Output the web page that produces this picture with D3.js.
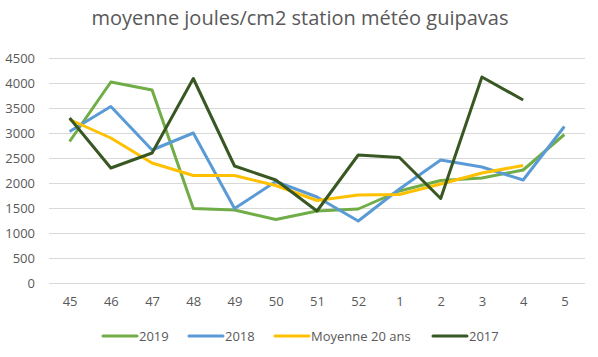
<!DOCTYPE html>
<html><head><meta charset="utf-8">
<script src="https://cdn.jsdelivr.net/npm/d3@7"></script>
<style>body{margin:0;background:#fff}svg{display:block;font-family:"Open Sans",sans-serif}</style>
</head><body><svg id="c" width="598" height="357"></svg>
<script>
const categories = ["45","46","47","48","49","50","51","52","1","2","3","4","5"];
const s2019 = [2830,4020,3860,1490,1460,1270,1440,1480,1840,2050,2100,2260,2970];
const s2018 = [3030,3530,2660,3000,1490,2030,1720,1240,1880,2460,2320,2060,3130];
const sMoy  = [3270,2900,2400,2150,2150,1950,1650,1760,1770,1980,2200,2350,null];
const s2017 = [3300,2300,2600,4090,2340,2060,1440,2560,2510,1690,4120,3660,null];
const yTicks = [0,500,1000,1500,2000,2500,3000,3500,4000,4500];
const seriesNames = ["2019","2018","Moyenne 20 ans","2017"];
const colors = ["#70AD47","#5B9BD5","#FFC000","#385723"];
const allSeries = [s2019,s2018,sMoy,s2017];

const svg = d3.select("#c");
const L=49,R=585,T=58,B=283;
const x = d3.scalePoint().domain(categories).range([L,R]).padding(0.5);
const y = d3.scaleLinear().domain([0,4500]).range([B,T]);

svg.append("text").attr("x",300).attr("y",25).attr("text-anchor","middle")
  .attr("font-size",20).attr("fill","#595959").text("moyenne joules/cm2 station météo guipavas");

const ya = svg.append("g").attr("transform",`translate(${L},0)`)
  .call(d3.axisLeft(y).tickValues(yTicks).tickFormat(d3.format("d")).tickSize(-(R-L)).tickPadding(14));
ya.select(".domain").remove();
ya.selectAll("line").attr("stroke","#d9d9d9");
ya.selectAll("text").attr("font-size",13).attr("fill","#595959").attr("font-family","Open Sans");

const xa = svg.append("g").attr("transform",`translate(0,${B})`)
  .call(d3.axisBottom(x).tickSize(0).tickPadding(14));
xa.select(".domain").remove();
xa.selectAll("text").attr("font-size",13).attr("fill","#595959").attr("font-family","Open Sans");

const line = d3.line().defined(d=>d.v!=null).x(d=>x(d.c)).y(d=>y(d.v));
allSeries.forEach((s,i)=>{
  svg.append("path").datum(s.map((v,j)=>({c:categories[j],v})))
    .attr("d",line).attr("fill","none").attr("stroke",colors[i])
    .attr("stroke-width",3).attr("stroke-linejoin","round");
});

const legX = [103,189,275,433];
const lg = svg.append("g");
seriesNames.forEach((n,i)=>{
  const g = lg.append("g").attr("transform",`translate(${legX[i]},336)`);
  g.append("line").attr("x1",0).attr("x2",34).attr("stroke",colors[i]).attr("stroke-width",3).attr("stroke-linecap","round");
  g.append("text").attr("x",36).attr("y",4.5).attr("font-size",13).attr("fill","#595959").text(n);
});
</script></body></html>
